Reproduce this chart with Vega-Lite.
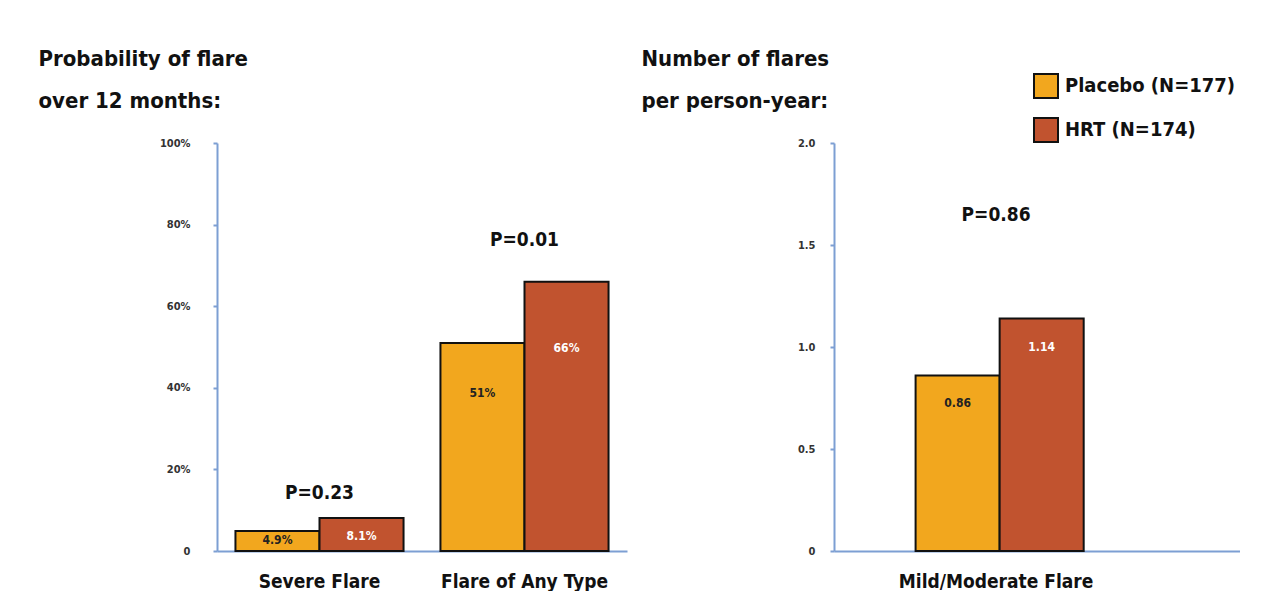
{
  "$schema": "https://vega.github.io/schema/vega-lite/v6.json",
  "padding": {"left": 38, "top": 47, "right": 0, "bottom": 0},
  "background": "white",
  "datasets": {
    "prob": [
      {"category": "Severe Flare", "group": "Placebo (N=177)", "value": 4.9, "label": "4.9%"},
      {"category": "Severe Flare", "group": "HRT (N=174)", "value": 8.1, "label": "8.1%"},
      {"category": "Flare of Any Type", "group": "Placebo (N=177)", "value": 51, "label": "51%"},
      {"category": "Flare of Any Type", "group": "HRT (N=174)", "value": 66, "label": "66%"}
    ],
    "probP": [
      {"category": "Severe Flare", "value": 14.2, "ptext": "P=0.23"},
      {"category": "Flare of Any Type", "value": 76.2, "ptext": "P=0.01"}
    ],
    "rate": [
      {"category": "Mild/Moderate Flare", "group": "Placebo (N=177)", "value": 0.86, "label": "0.86"},
      {"category": "Mild/Moderate Flare", "group": "HRT (N=174)", "value": 1.14, "label": "1.14"}
    ],
    "rateP": [
      {"category": "Mild/Moderate Flare", "value": 1.647, "ptext": "P=0.86"}
    ]
  },
  "config": {
    "font": "DejaVu Sans Condensed",
    "view": {"stroke": null},
    "axis": {
      "grid": false,
      "domainColor": "#7d9fd3",
      "domainWidth": 2,
      "tickColor": "#7d9fd3",
      "tickWidth": 2,
      "labelFont": "DejaVu Sans Condensed",
      "labelFontWeight": "bold",
      "labelColor": "#333333",
      "labelLimit": 0,
      "titleFont": "DejaVu Sans Condensed",
      "titleFontWeight": "bold",
      "titleFontSize": 22,
      "titleColor": "#111111",
      "titleLineHeight": 42,
      "titleAngle": 0,
      "titleAlign": "left",
      "titleBaseline": "alphabetic"
    },
    "text": {"font": "DejaVu Sans Condensed", "fontWeight": "bold"}
  },
  "spacing": 14,
  "resolve": {"scale": {"y": "independent", "x": "independent"}, "legend": {"color": "independent"}},
  "hconcat": [
    {
      "width": 410,
      "height": 408,
      "layer": [
        {
          "data": {"name": "prob"},
          "encoding": {
            "x": {
              "field": "category", "type": "nominal",
              "sort": ["Severe Flare", "Flare of Any Type"],
              "scale": {"paddingInner": 0.18, "paddingOuter": 0.09},
              "axis": {"title": null, "labelAngle": 0, "ticks": false, "labelFontSize": 19, "labelColor": "#111111", "labelPadding": 21}
            },
            "xOffset": {
              "field": "group", "type": "nominal",
              "sort": ["Placebo (N=177)", "HRT (N=174)"],
              "scale": {"paddingInner": 0, "paddingOuter": 0}
            },
            "y": {
              "field": "value", "type": "quantitative",
              "scale": {"domain": [0, 100], "nice": false},
              "axis": {
                "title": ["Probability of flare", "over 12 months:"],
                "titleX": -179, "titleY": -78,
                "values": [0, 20, 40, 60, 80, 100],
                "labelExpr": "datum.value == 0 ? '0' : datum.value + '%'",
                "labelFontSize": 11, "tickSize": 4, "labelPadding": 23
              }
            }
          },
          "layer": [
            {
              "mark": {"type": "bar", "stroke": "#111111", "strokeWidth": 2},
              "encoding": {
                "color": {
                  "field": "group", "type": "nominal",
                  "scale": {"domain": ["Placebo (N=177)", "HRT (N=174)"], "range": ["#f2a71e", "#c1532f"]},
                  "legend": null
                }
              }
            },
            {
              "transform": [{"filter": "datum.category == 'Severe Flare' && datum.group == 'Placebo (N=177)'"}],
              "mark": {"type": "text", "baseline": "middle", "dy": 9, "fontSize": 12, "color": "#222222"},
              "encoding": {"text": {"field": "label"}}
            },
            {
              "transform": [{"filter": "datum.category == 'Severe Flare' && datum.group == 'HRT (N=174)'"}],
              "mark": {"type": "text", "baseline": "middle", "dy": 18, "fontSize": 12, "color": "white"},
              "encoding": {"text": {"field": "label"}}
            },
            {
              "transform": [{"filter": "datum.category == 'Flare of Any Type' && datum.group == 'Placebo (N=177)'"}],
              "mark": {"type": "text", "baseline": "middle", "dy": 50, "fontSize": 12, "color": "#222222"},
              "encoding": {"text": {"field": "label"}}
            },
            {
              "transform": [{"filter": "datum.category == 'Flare of Any Type' && datum.group == 'HRT (N=174)'"}],
              "mark": {"type": "text", "baseline": "middle", "dy": 66, "fontSize": 12, "color": "white"},
              "encoding": {"text": {"field": "label"}}
            }
          ]
        },
        {
          "data": {"name": "probP"},
          "mark": {"type": "text", "baseline": "middle", "fontSize": 19, "color": "#111111"},
          "encoding": {
            "x": {"field": "category", "type": "nominal", "sort": ["Severe Flare", "Flare of Any Type"]},
            "y": {"field": "value", "type": "quantitative"},
            "text": {"field": "ptext"}
          }
        }
      ]
    },
    {
      "width": 406,
      "height": 408,
      "layer": [
        {
          "data": {"name": "rate"},
          "encoding": {
            "x": {
              "field": "category", "type": "nominal",
              "scale": {"paddingInner": 0, "paddingOuter": 0.761, "align": 0.333},
              "axis": {"title": null, "labelAngle": 0, "ticks": false, "labelFontSize": 19, "labelColor": "#111111", "labelPadding": 21}
            },
            "xOffset": {
              "field": "group", "type": "nominal",
              "sort": ["Placebo (N=177)", "HRT (N=174)"],
              "scale": {"paddingInner": 0, "paddingOuter": 0}
            },
            "y": {
              "field": "value", "type": "quantitative",
              "scale": {"domain": [0, 2], "nice": false},
              "axis": {
                "title": ["Number of flares", "per person-year:"],
                "titleX": -193, "titleY": -78,
                "values": [0, 0.5, 1, 1.5, 2],
                "labelExpr": "datum.value == 0 ? '0' : format(datum.value, '.1f')",
                "labelFontSize": 11, "tickSize": 4, "labelPadding": 15
              }
            }
          },
          "layer": [
            {
              "mark": {"type": "bar", "stroke": "#111111", "strokeWidth": 2},
              "encoding": {
                "color": {
                  "field": "group", "type": "nominal",
                  "sort": ["Placebo (N=177)", "HRT (N=174)"],
                  "scale": {"domain": ["Placebo (N=177)", "HRT (N=174)"], "range": ["#f2a71e", "#c1532f"]},
                  "legend": {
                    "title": null, "orient": "none", "legendX": 199, "legendY": -70,
                    "symbolType": "square", "symbolSize": 576, "symbolStrokeColor": "#111111", "symbolStrokeWidth": 2,
                    "labelFont": "DejaVu Sans Condensed", "labelFontWeight": "bold", "labelFontSize": 20, "labelColor": "#111111",
                    "labelLimit": 0, "rowPadding": 12, "labelOffset": 6, "padding": 0, "offset": 0
                  }
                }
              }
            },
            {
              "transform": [{"filter": "datum.group == 'Placebo (N=177)'"}],
              "mark": {"type": "text", "baseline": "middle", "dy": 27, "fontSize": 12, "color": "#222222"},
              "encoding": {"text": {"field": "label"}}
            },
            {
              "transform": [{"filter": "datum.group == 'HRT (N=174)'"}],
              "mark": {"type": "text", "baseline": "middle", "dy": 29, "fontSize": 12, "color": "white"},
              "encoding": {"text": {"field": "label"}}
            }
          ]
        },
        {
          "data": {"name": "rateP"},
          "mark": {"type": "text", "baseline": "middle", "fontSize": 19, "color": "#111111"},
          "encoding": {
            "x": {"field": "category", "type": "nominal"},
            "y": {"field": "value", "type": "quantitative"},
            "text": {"field": "ptext"}
          }
        }
      ]
    }
  ]
}
